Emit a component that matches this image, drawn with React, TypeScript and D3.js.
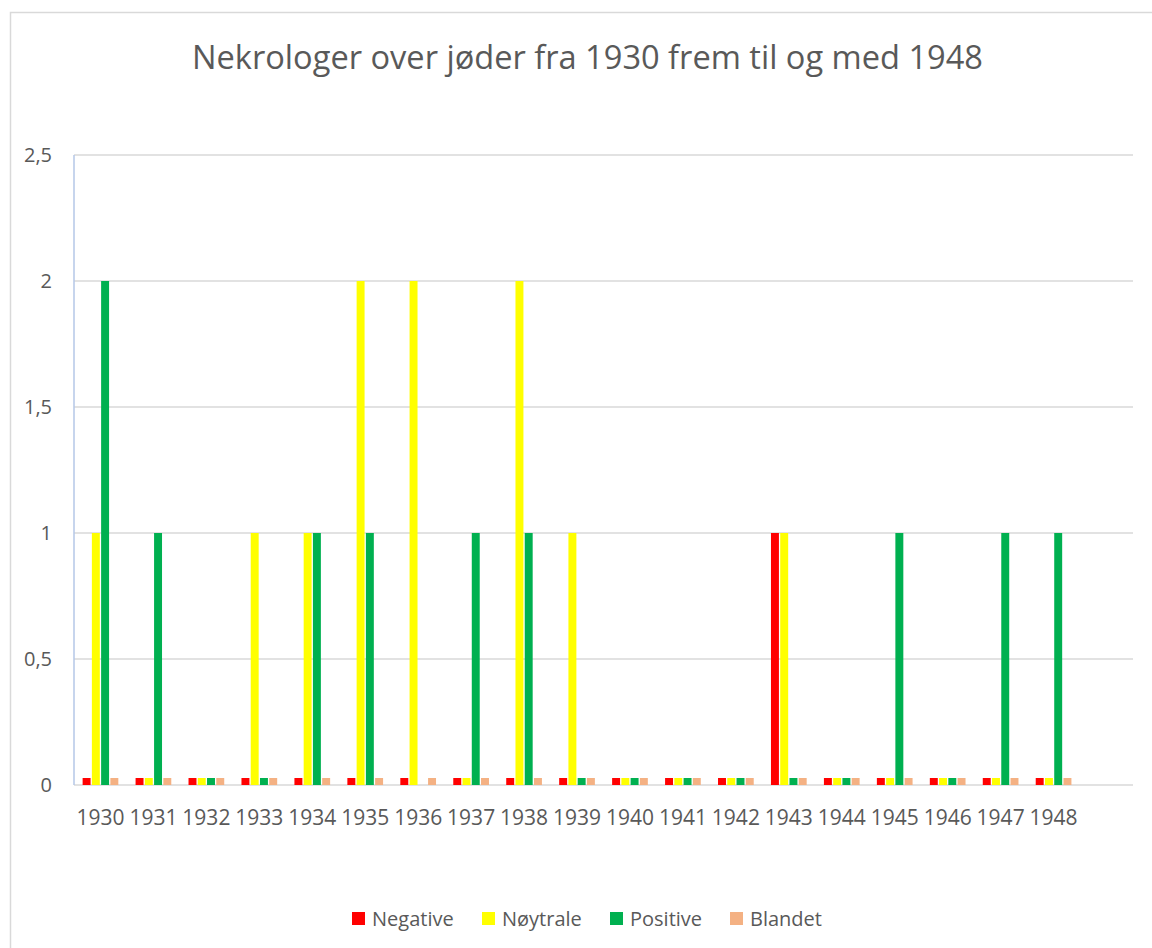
import React from "react";
import * as d3 from "d3";

const years = ["1930","1931","1932","1933","1934","1935","1936","1937","1938","1939","1940","1941","1942","1943","1944","1945","1946","1947","1948"];
const seriesNames = ["Negative", "Nøytrale", "Positive", "Blandet"];
const seriesColors = ["#ff0000", "#ffff00", "#00b050", "#f4b183"];
const negative: (number | null)[] = [0,0,0,0,0,0,0,0,0,0,0,0,0,1,0,0,0,0,0];
const noytrale: (number | null)[] = [1,0,0,1,1,2,2,0,2,1,0,0,0,1,0,0,0,0,0];
const positive: (number | null)[] = [2,1,0,0,1,1,null,1,1,0,0,0,0,0,0,1,0,1,1];
const blandet: (number | null)[] = [0,0,0,0,0,0,0,0,0,0,0,0,0,0,0,0,0,0,0];
const yTicks = [0, 0.5, 1, 1.5, 2, 2.5];
const title = "Nekrologer over jøder fra 1930 frem til og med 1948";

const W = 1152, H = 948;
const FONT = "'Open Sans', sans-serif";
const TXT = "#595959";

export default function App() {
  const series = [negative, noytrale, positive, blandet];
  const plotL = 74, plotR = 1133, plotT = 155, plotB = 785;
  const x = d3.scaleBand<string>().domain([...years, "__blank"]).range([plotL, plotR]).padding(0);
  const groupW = 37;
  const x1 = d3.scaleBand<string>().domain(seriesNames).range([0, groupW]).padding(0);
  const barW = x1.bandwidth() * 0.86;
  const y = d3.scaleLinear().domain([0, 2.5]).range([plotB, plotT]);
  const stub = 7;
  const fmt = (v: number) => String(v).replace(".", ",");

  const legendX = [352, 482, 610, 730];

  return (
    <div style={{ position: "absolute", left: 0, top: 0 }}>
      <svg width={W} height={H} style={{ display: "block", background: "#fff" }}>
        <rect x={10.5} y={12.5} width={1150} height={950} fill="#fff" stroke="#d9d9d9" strokeWidth={1.5} />
        <text x={587.5} y={69} textAnchor="middle" fontFamily={FONT} fontSize={32} fill={TXT}
          textLength={791} lengthAdjust="spacingAndGlyphs">{title}</text>
        {yTicks.map((t) => (
          <g key={t}>
            <line x1={plotL} x2={plotR} y1={y(t)} y2={y(t)} stroke="#d9d9d9" strokeWidth={1.5} />
            <text x={52} y={y(t)} dy="0.35em" textAnchor="end" fontFamily={FONT} fontSize={20} fill={TXT}>{fmt(t)}</text>
          </g>
        ))}
        <line x1={plotL} x2={plotL} y1={plotT} y2={plotB} stroke="#b4c7e7" strokeWidth={1.5} />
        {years.map((yr, i) => {
          const gx = (x(yr) as number) + (x.bandwidth() - groupW) / 2;
          return (
            <g key={yr}>
              {series.map((s, si) => {
                const v = s[i];
                if (v === null) return null;
                const bx = gx + (x1(seriesNames[si]) as number) + (x1.bandwidth() - barW) / 2;
                const top = v === 0 ? plotB - stub : y(v);
                return <rect key={si} x={bx} y={top} width={barW} height={plotB - top} fill={seriesColors[si]} />;
              })}
              <text x={(x(yr) as number) + x.bandwidth() / 2} y={825} textAnchor="middle" fontFamily={FONT} fontSize={21} fill={TXT}>{yr}</text>
            </g>
          );
        })}
        {seriesNames.map((n, i) => (
          <g key={n}>
            <rect x={legendX[i]} y={912} width={13} height={13} fill={seriesColors[i]} />
            <text x={legendX[i] + 20} y={926} fontFamily={FONT} fontSize={20} fill={TXT}>{n}</text>
          </g>
        ))}
      </svg>
    </div>
  );
}
